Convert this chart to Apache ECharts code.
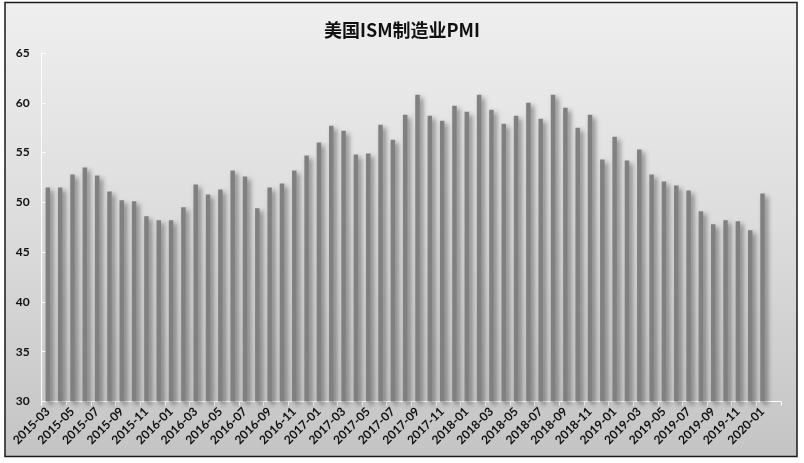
<!DOCTYPE html>
<html><head><meta charset="utf-8">
<script src="https://cdn.jsdelivr.net/npm/echarts@6/dist/echarts.min.js"></script>
<style>html,body{margin:0;padding:0;background:#fff}#c{width:804px;height:463px}</style>
</head><body><div id="c"></div>
<script>
const chartTitle = '美国ISM制造业PMI';
const months = [
  '2015-03','2015-04','2015-05','2015-06','2015-07','2015-08','2015-09','2015-10','2015-11','2015-12',
  '2016-01','2016-02','2016-03','2016-04','2016-05','2016-06','2016-07','2016-08','2016-09','2016-10','2016-11','2016-12',
  '2017-01','2017-02','2017-03','2017-04','2017-05','2017-06','2017-07','2017-08','2017-09','2017-10','2017-11','2017-12',
  '2018-01','2018-02','2018-03','2018-04','2018-05','2018-06','2018-07','2018-08','2018-09','2018-10','2018-11','2018-12',
  '2019-01','2019-02','2019-03','2019-04','2019-05','2019-06','2019-07','2019-08','2019-09','2019-10','2019-11','2019-12',
  '2020-01','2020-02'
];
const pmi = [
  51.5, 51.5, 52.8, 53.5, 52.7, 51.1, 50.2, 50.1, 48.6, 48.2,
  48.2, 49.5, 51.8, 50.8, 51.3, 53.2, 52.6, 49.4, 51.5, 51.9, 53.2, 54.7,
  56.0, 57.7, 57.2, 54.8, 54.9, 57.8, 56.3, 58.8, 60.8, 58.7, 58.2, 59.7,
  59.1, 60.8, 59.3, 57.9, 58.7, 60.0, 58.4, 60.8, 59.5, 57.5, 58.8, 54.3,
  56.6, 54.2, 55.3, 52.8, 52.1, 51.7, 51.2, 49.1, 47.8, 48.2, 48.1, 47.2,
  50.9, null
];
const yMin = 30, yMax = 65, yStep = 5;

const chart = echarts.init(document.getElementById('c'), null, {renderer: 'canvas'});
chart.setOption({
  animation: false,
  graphic: [{
    type: 'rect', z: -10, silent: true,
    shape: {x: 5, y: 2.5, width: 792, height: 454},
    style: {
      fill: new echarts.graphic.LinearGradient(0, 0, 0, 1, [
        {offset: 0, color: '#efefef'}, {offset: 0.5, color: '#dcdcdc'}, {offset: 1, color: '#c4c4c4'}
      ]),
      stroke: '#1a1a1a', lineWidth: 1.5
    }
  }],
  title: {
    text: chartTitle, left: 'center', top: 16,
    textStyle: {fontFamily: '"Noto Sans CJK SC", Lato, sans-serif', fontSize: 18, fontWeight: 'bold', color: '#111'}
  },
  grid: {left: 41.7, right: 23, top: 53, bottom: 61.5, containLabel: false},
  xAxis: {
    type: 'category', data: months, boundaryGap: true,
    axisLine: {lineStyle: {color: '#ffffff', width: 1}},
    axisTick: {show: true, interval: 1, length: 4, lineStyle: {color: '#ffffff'}},
    axisLabel: {
      interval: 1, rotate: 45, margin: 8, color: '#111',
      fontFamily: 'Lato, "Liberation Sans", sans-serif', fontSize: 12, fontWeight: 'bold'
    },
    splitLine: {show: false}
  },
  yAxis: {
    type: 'value', min: yMin, max: yMax, interval: yStep,
    axisLine: {show: true, lineStyle: {color: '#ffffff', width: 1}},
    axisTick: {show: true, inside: true, length: 4, lineStyle: {color: '#ffffff'}},
    axisLabel: {margin: 12, color: '#111', fontFamily: 'Lato, "Liberation Sans", sans-serif', fontSize: 12, fontWeight: 'bold'},
    splitLine: {show: false}
  },
  series: [{
    type: 'bar', data: pmi, barWidth: 4.5,
    itemStyle: {
      color: '#808080',
      shadowColor: 'rgba(0,0,0,0.45)', shadowBlur: 5, shadowOffsetX: 3, shadowOffsetY: 3
    }
  }]
});
</script>
</body></html>
